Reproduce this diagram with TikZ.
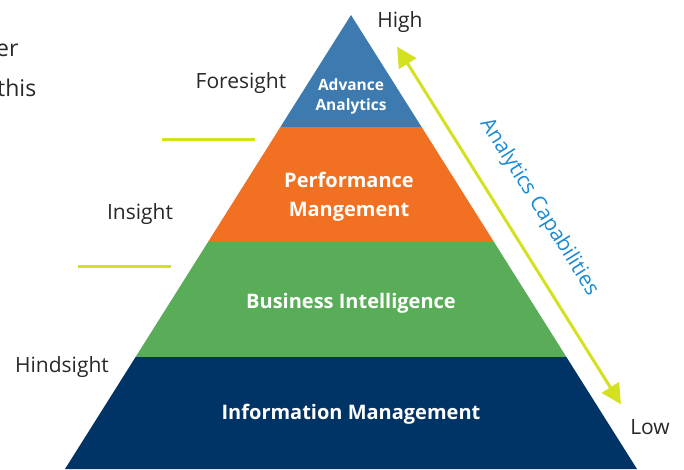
\documentclass[tikz,border=0pt]{standalone}
\usepackage{fontspec}
\setmainfont{Open Sans}
\usepackage{tikz}
\usetikzlibrary{positioning,arrows.meta,calc}
\definecolor{aablue}{RGB}{61,122,176}
\definecolor{pmorange}{RGB}{241,112,34}
\definecolor{bigreen}{RGB}{89,172,88}
\definecolor{imnavy}{RGB}{0,51,102}
\definecolor{capline}{RGB}{212,225,33}
\definecolor{captext}{RGB}{26,138,212}
\definecolor{labgray}{RGB}{40,40,40}
\tikzset{
  layer/.style  = {draw=none},
  inlabel/.style = {text=white, font=\bfseries\fontsize{20}{29}\selectfont, align=center},
  sidelabel/.style = {text=labgray, font=\fontsize{21}{24}\selectfont},
  sep/.style = {draw=capline, line width=3pt},
  caparrow/.style = {{Triangle[length=20pt,width=20pt]}-{Triangle[length=20pt,width=20pt]},
                draw=capline, line width=3pt, shorten >=2pt, shorten <=2pt}
}
\begin{document}
\begin{tikzpicture}[x=1pt,y=-1pt]
  \useasboundingbox (0,0) rectangle (684,469);
  % pyramid layers
  \fill[aablue]   (351,15) -- (421.6,127) -- (280.4,127) -- cycle;
  \fill[pmorange] (280.4,127) -- (421.6,127) -- (494,242) -- (208,242) -- cycle;
  \fill[bigreen]  (208,242) -- (494,242) -- (566.4,357) -- (135.6,357) -- cycle;
  \fill[imnavy]   (135.6,357) -- (566.4,357) -- (637,469) -- (65,469) -- cycle;
  \node[inlabel, font=\bfseries\fontsize{15.5}{20}\selectfont] (aa) at (351,96) {Advance\\Analytics};
  \node[inlabel] (pm) at (349,197) {Performance\\Mangement};
  \node[inlabel] (bi) at (351,303) {Business Intelligence};
  \node[inlabel] (im) at (351,414) {Information Management};
  % left labels
  \node[sidelabel] (fore) at (241,83) {Foresight};
  \node[sidelabel] (ins) at (140,214) {Insight};
  \node[sidelabel] (hind) at (62,367) {Hindsight};
  \node[sidelabel, anchor=west, inner sep=0pt, font=\fontsize{23}{26}\selectfont] (er) at (-4,50) {er};
  \node[sidelabel, anchor=west, inner sep=0pt, font=\fontsize{23}{26}\selectfont] (this) at (-3,88) {this};
  \coordinate (s1a) at (162,139);
  \coordinate (s1b) at (255,139);
  \coordinate (s2a) at (78,266);
  \coordinate (s2b) at (171,266);
  \draw[sep] (s1a) -- (s1b);
  \draw[sep] (s2a) -- (s2b);
  % capability arrow
  \node[sidelabel] (high) at (400,22) {High};
  \node[sidelabel] (low) at (650,427) {Low};
  \coordinate (hi) at (396,45);
  \coordinate (lo) at (622,406);
  \draw[caparrow] (hi) -- (lo);
  \node[text=captext, font=\fontsize{21}{24}\selectfont, rotate=-57.9] (capa) at (539,207) {Analytics Capabilities};
\end{tikzpicture}
\end{document}
